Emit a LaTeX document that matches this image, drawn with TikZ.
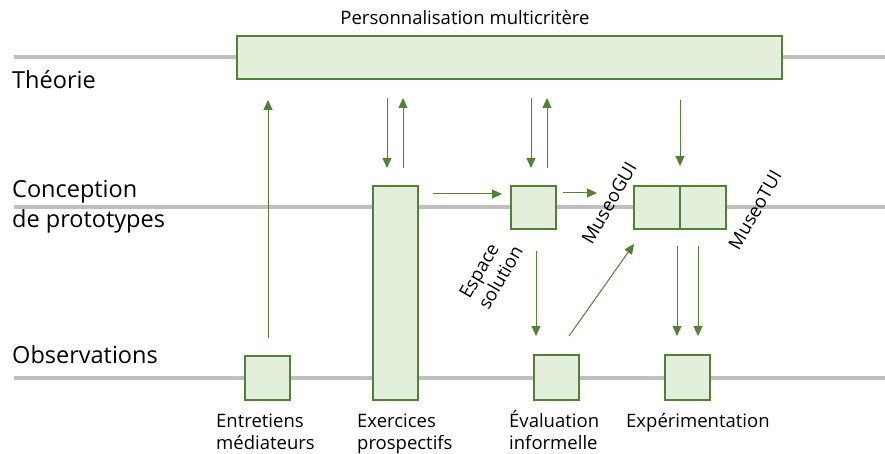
\documentclass[tikz,border=0pt]{standalone}
\usepackage{fontspec}
\setmainfont{Open Sans}
\usetikzlibrary{arrows.meta}
\definecolor{gstroke}{HTML}{538135}
\definecolor{gfill}{HTML}{E2EFDA}
\definecolor{garrow}{HTML}{548235}
\definecolor{lgray}{HTML}{BFBFBF}
\begin{document}
\begin{tikzpicture}[x=1pt,y=-1pt,
  lane/.style={draw=lgray, line width=4pt},
  box/.style={draw=gstroke, fill=gfill, line width=1.5pt, inner sep=0pt, outer sep=0pt},
  arr/.style={draw=garrow, line width=1pt, -{Triangle[length=10pt,width=9pt]}},
  lbl/.style={inner sep=0pt, font=\fontsize{18.5}{22}\selectfont, align=left},
  big/.style={inner sep=0pt, font=\fontsize{23.5}{30}\selectfont, align=left}]
\fill[white] (0,0) rectangle (885,454);
\useasboundingbox (0,0) rectangle (885,454);
% lanes
\coordinate (l1a) at (14,57); \coordinate (l1b) at (885,57);
\coordinate (l2a) at (14,207); \coordinate (l2b) at (885,207);
\coordinate (l3a) at (14,378); \coordinate (l3b) at (885,378);
\draw[lane] (l1a) -- (l1b);
\draw[lane] (l2a) -- (l2b);
\draw[lane] (l3a) -- (l3b);
% boxes
\node[box, minimum width=545pt, minimum height=43pt] (theo) at (509.5,57.5) {};
\node[box, minimum width=45pt, minimum height=44pt] (ent) at (267.5,378) {};
\node[box, minimum width=45pt, minimum height=214pt] (exe) at (395.5,293) {};
\node[box, minimum width=45pt, minimum height=43pt] (esp) at (533.5,207.5) {};
\node[box, minimum width=46pt, minimum height=43pt] (gui) at (657,207.5) {};
\node[box, minimum width=46pt, minimum height=43pt] (tui) at (703,207.5) {};
\node[box, minimum width=45pt, minimum height=45pt] (eva) at (556.5,377.5) {};
\node[box, minimum width=45pt, minimum height=45pt] (xp) at (687.5,377.5) {};
% labels
\node[lbl, anchor=base] (ttl) at (465,25) {Personnalisation multicritère};
\node[big, anchor=base west] (tTh) at (12,89) {Théorie};
\node[big, anchor=base west] (tCo) at (12,198) {Conception};
\node[big, anchor=base west] (tCo2) at (12,228) {de prototypes};
\node[big, anchor=base west] (tOb) at (12,363) {Observations};
\node[lbl, anchor=base west] (tEnt1) at (216,427) {Entretiens};
\node[lbl, anchor=base west] (tEnt2) at (216,449) {médiateurs};
\node[lbl, anchor=base west] (tExe1) at (357,427) {Exercices};
\node[lbl, anchor=base west] (tExe2) at (357,449) {prospectifs};
\node[lbl, anchor=base west] (tEva1) at (509,427) {Évaluation};
\node[lbl, anchor=base west] (tEva2) at (509,449) {informelle};
\node[lbl, anchor=base west] (tXp) at (626,427) {Expérimentation};
\node[lbl, rotate=60] (tEsp) at (491,272) {Espace\\solution};
\node[lbl, rotate=60] (tGui) at (609,203) {MuseoGUI};
\node[lbl, rotate=60] (tTui) at (755,210) {MuseoTUI};
% arrow end points
\coordinate (a1s) at (268,338); \coordinate (a1e) at (268,100);
\coordinate (a2s) at (387,98);  \coordinate (a2e) at (387,168);
\coordinate (a3s) at (403,168); \coordinate (a3e) at (403,98);
\coordinate (a4s) at (531,98);  \coordinate (a4e) at (531,168);
\coordinate (a5s) at (547,168); \coordinate (a5e) at (547,98);
\coordinate (a6s) at (680,100); \coordinate (a6e) at (680,166);
\coordinate (a7s) at (433,194); \coordinate (a7e) at (502,194);
\coordinate (a8s) at (563,193); \coordinate (a8e) at (597,193);
\coordinate (a9s) at (536,251); \coordinate (a9e) at (536,336);
\coordinate (a10s) at (569,336); \coordinate (a10e) at (634,244);
\coordinate (a11s) at (677,246); \coordinate (a11e) at (677,336);
\coordinate (a12s) at (698,246); \coordinate (a12e) at (698,336);
\foreach \i in {1,...,12} {\draw[arr] (a\i s) -- (a\i e);}
\end{tikzpicture}
\end{document}
